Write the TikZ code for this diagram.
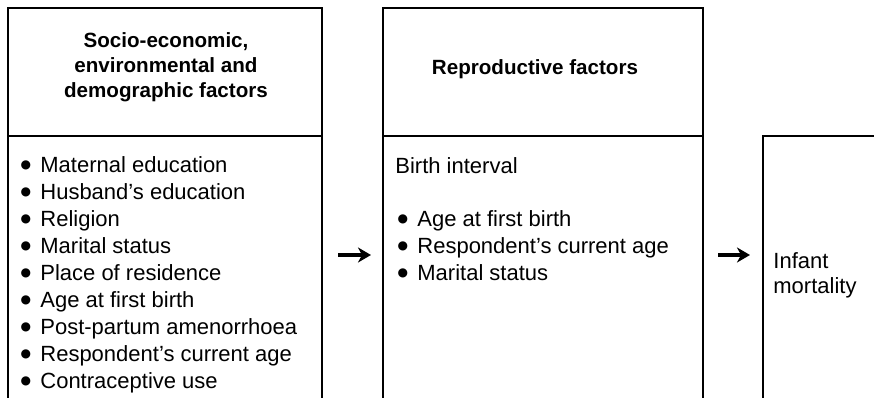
\documentclass[tikz,border=0pt]{standalone}
\usepackage{fontspec}
\setmainfont{Liberation Sans}
\newfontfamily\symfont{DejaVu Sans}
\usetikzlibrary{arrows.meta}
\begin{document}
\begin{tikzpicture}[x=0.5pt,y=-0.5pt,
  boxline/.style={line width=1.4pt},
  listtext/.style={anchor=base west, inner sep=0pt, font=\fontsize{11}{13.5}\selectfont},
  headtext/.style={anchor=base, inner sep=0pt, font=\fontsize{10.3}{12.5}\selectfont\bfseries},
  flow/.style={line width=1.6pt, -{Stealth[length=6.5pt,width=7.5pt,inset=2pt]}}]
\newcommand{\bul}{\makebox[10.5pt][l]{\hspace{0.6pt}\raisebox{1.6pt}{\symfont\fontsize{6}{6}\selectfont ●}}}
\useasboundingbox (0,0) rectangle (874,397);
\begin{scope}
\clip (0,0) rectangle (874,397);
% left box
\draw[boxline] (8,420) -- (8,8) -- (322,8) -- (322,420);
\draw[boxline] (8,136) -- (322,136);
% middle box
\draw[boxline] (383,420) -- (383,8) -- (703,8) -- (703,420);
\draw[boxline] (383,136) -- (703,136);
% right box
\draw[boxline] (763,420) -- (763,136) -- (900,136);
\end{scope}

\node[headtext] (h1) at (166,47) {\begin{tabular}[t]{@{}c@{}}Socio-economic,\\environmental and\\demographic factors\end{tabular}};
\node[headtext] (h2) at (535,74) {Reproductive factors};

\node[listtext] (l1) at (19,172) {\begin{tabular}[t]{@{}l@{}}
\bul Maternal education\\
\bul Husband’s education\\
\bul Religion\\
\bul Marital status\\
\bul Place of residence\\
\bul Age at first birth\\
\bul Post-partum amenorrhoea\\
\bul Respondent’s current age\\
\bul Contraceptive use
\end{tabular}};

\node[listtext] (bi) at (395,173) {Birth interval};
\node[listtext] (l2) at (396,226) {\begin{tabular}[t]{@{}l@{}}
\bul Age at first birth\\
\bul Respondent’s current age\\
\bul Marital status
\end{tabular}};

\node[listtext,font=\fontsize{11}{12.8}\selectfont] (im) at (773,268) {\begin{tabular}[t]{@{}l@{}}Infant\\mortality\end{tabular}};

\coordinate (a1s) at (338,255);
\coordinate (a1e) at (371,255);
\coordinate (a2s) at (718,255);
\coordinate (a2e) at (750,255);
\draw[flow] (a1s) -- (a1e);
\draw[flow] (a2s) -- (a2e);
\end{tikzpicture}
\end{document}
